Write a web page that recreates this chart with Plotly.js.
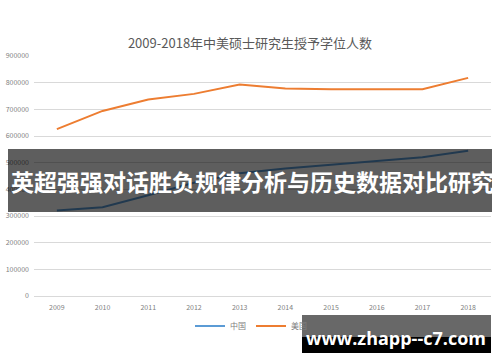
<!DOCTYPE html>
<html>
<head>
<meta charset="utf-8">
<script src="https://cdn.plot.ly/plotly-3.0.1.min.js"></script>
<style>html,body{margin:0;padding:0;background:#fff;}#chart{width:500px;height:362px;}</style>
</head>
<body>
<div id="chart"></div>
<script>
// Data
var years = ["2009","2010","2011","2012","2013","2014","2015","2016","2017","2018"];
var china = [321000, 333000, 378000, 425000, 460000, 478000, 492000, 506000, 520000, 545000];
var usa   = [626000, 694000, 737000, 758000, 793000, 778000, 775000, 775000, 775000, 818000];
var seriesNames = ["中国", "美国"];
var chartTitle = "2009-2018年中美硕士研究生授予学位人数";
var bannerText = "英超强强对话胜负规律分析与历史数据对比研究";
var watermarkText = "www.zhapp--c7.com";

var W = 500, H = 362, L = 34, R = 9, T = 56, B = 66;
var pw = W - L - R, ph = H - T - B;
function px(x){ return (x - L) / pw; }
function py(y){ return (H - B - y) / ph; }

var cjk = '"Noto Sans CJK SC", "Noto Sans", sans-serif';

var traces = [
  {x: years, y: china, name: seriesNames[0], type: 'scatter', mode: 'lines',
   line: {color: '#5b9bd5', width: 2}},
  {x: years, y: usa, name: seriesNames[1], type: 'scatter', mode: 'lines',
   line: {color: '#ed7d31', width: 2}}
];

var layout = {
  width: W, height: H,
  margin: {l: L, r: R, t: T, b: B, pad: 0},
  paper_bgcolor: '#fff', plot_bgcolor: '#fff',
  font: {family: cjk, color: '#808080', size: 7},
  title: {text: chartTitle, x: 0.5, xanchor: 'center', y: 1 - 43/H, yanchor: 'middle',
          font: {family: cjk, size: 13, color: '#595959'}},
  xaxis: {type: 'category', range: [-0.5, years.length - 0.5], showgrid: false, zeroline: false,
          showline: false, ticks: '', ticklabelstandoff: 6,
          tickfont: {size: 7, color: '#808080'}, fixedrange: true},
  yaxis: {range: [0, 900000], dtick: 100000, tick0: 0, showgrid: true, gridcolor: '#d9d9d9',
          gridwidth: 1, zeroline: true, zerolinecolor: '#d9d9d9', zerolinewidth: 1,
          showline: false, ticks: '', tickformat: 'd', ticklabelstandoff: 4,
          tickfont: {size: 7, color: '#808080'}, fixedrange: true},
  showlegend: true,
  legend: {orientation: 'h', x: px(190), xanchor: 'left', y: py(326), yanchor: 'middle',
           font: {size: 8, color: '#808080'}, itemwidth: 30, bgcolor: 'rgba(0,0,0,0)'},
  shapes: [
    {type: 'rect', xref: 'paper', yref: 'paper', x0: px(8), x1: px(492), y0: py(212), y1: py(149),
     fillcolor: 'rgba(0,0,0,0.63)', line: {width: 0}, layer: 'above'},
    {type: 'rect', xref: 'paper', yref: 'paper', x0: px(302), x1: px(491), y0: py(337), y1: py(315),
     fillcolor: '#686868', line: {width: 0}, layer: 'above'},
    {type: 'rect', xref: 'paper', yref: 'paper', x0: px(302), x1: px(491), y0: py(353), y1: py(337),
     fillcolor: '#000000', line: {width: 0}, layer: 'above'}
  ],
  annotations: [
    {text: '<b>' + bannerText + '</b>', xref: 'paper', yref: 'paper', x: px(9), xanchor: 'left',
     y: py(181), yanchor: 'middle', showarrow: false,
     font: {family: cjk, size: 23, color: '#ffffff'}},
    {text: '<b>' + watermarkText + '</b>', xref: 'paper', yref: 'paper', x: px(396), xanchor: 'center',
     y: py(338), yanchor: 'middle', showarrow: false,
     font: {family: '"Open Sans", sans-serif', size: 18, color: '#ffffff'}}
  ]
};

Plotly.newPlot('chart', traces, layout, {displayModeBar: false, staticPlot: true});
</script>
</body>
</html>
